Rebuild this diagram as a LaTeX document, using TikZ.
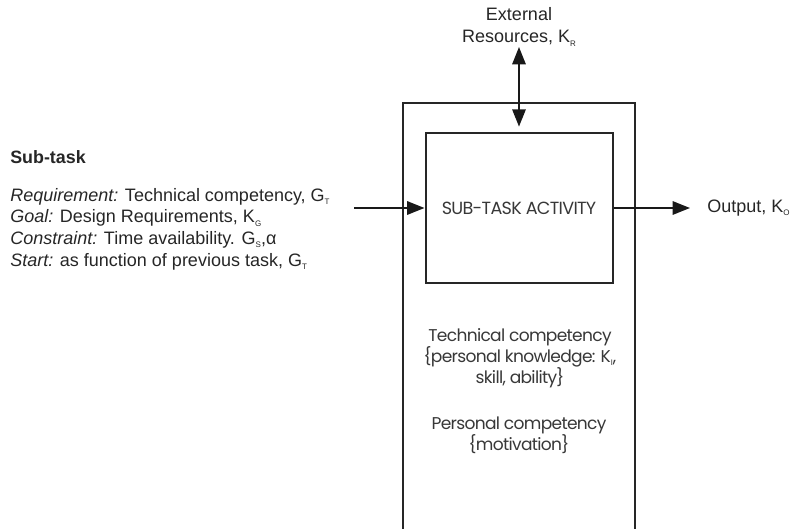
\documentclass[tikz,border=0pt]{standalone}
\usepackage{fontspec}
\setmainfont{Liberation Sans}
\newfontfamily\geofont[LetterSpace=-4]{Poppins}
\usetikzlibrary{arrows.meta}
\newcommand{\sbs}[1]{\raisebox{-0.35ex}{\fontsize{6}{6}\selectfont #1}}
\tikzset{
  tip/.tip={Triangle[length=13pt,width=10pt]},
  boxline/.style={draw=black!85, line width=1.5pt},
  flow/.style={draw=black!90, line width=1.5pt, -tip},
  label/.style={inner sep=0pt, font=\fontsize{13.5}{16.3}\selectfont, text=black!85},
  geo/.style={inner sep=0pt, font=\geofont\fontsize{12.8}{15.75}\selectfont, text=black!78, align=center}
}
\begin{document}
\begin{tikzpicture}[x=0.75pt,y=-0.75pt]
\useasboundingbox (0,0) rectangle (794,529);
% outer competency frame, open at the bottom
\draw[boxline] (403,540) -- (403,103) -- (635,103) -- (635,540);
% inner activity box
\node[boxline, minimum width=187*0.75pt, minimum height=150*0.75pt, inner sep=0pt,
      geo, font=\geofont\fontsize{13.2}{14}\selectfont] (act) at (519,208) {SUB-TASK ACTIVITY};
% side texts
\node[label, anchor=west, font=\bfseries\fontsize{13.4}{15}\selectfont] (sub) at (10,157) {Sub-task};
\node[label, anchor=west, align=left] (spec) at (10,229)
  {\textit{Requirement:} Technical competency, G\sbs{T}\\
   \textit{Goal:} Design Requirements, K\sbs{G}\\
   \textit{Constraint:} Time availability. G\sbs{S},α\\
   \textit{Start:} as function of previous task, G\sbs{T}};
\coordinate (in) at (354,208);
\node[label, align=center] (ext) at (519,27) {External\\Resources, K\sbs{R}};
\coordinate (extend) at (519,47);
\node[label, anchor=west] (out) at (707,208) {Output, K\sbs{O}};
\coordinate (outend) at (690,208);
% competency description inside the frame
\node[geo] (tech) at (520,358) {Technical competency\\\{personal knowledge: K\sbs{I},\\skill, ability\}};
\node[geo] (pers) at (519,435) {Personal competency\\\{motivation\}};
% connectors
\draw[flow] (in) -- (act.west);
\draw[flow] (act.east) -- (outend);
\draw[flow, tip-tip, shorten >=4pt] (extend) -- (act.north);
\end{tikzpicture}
\end{document}
